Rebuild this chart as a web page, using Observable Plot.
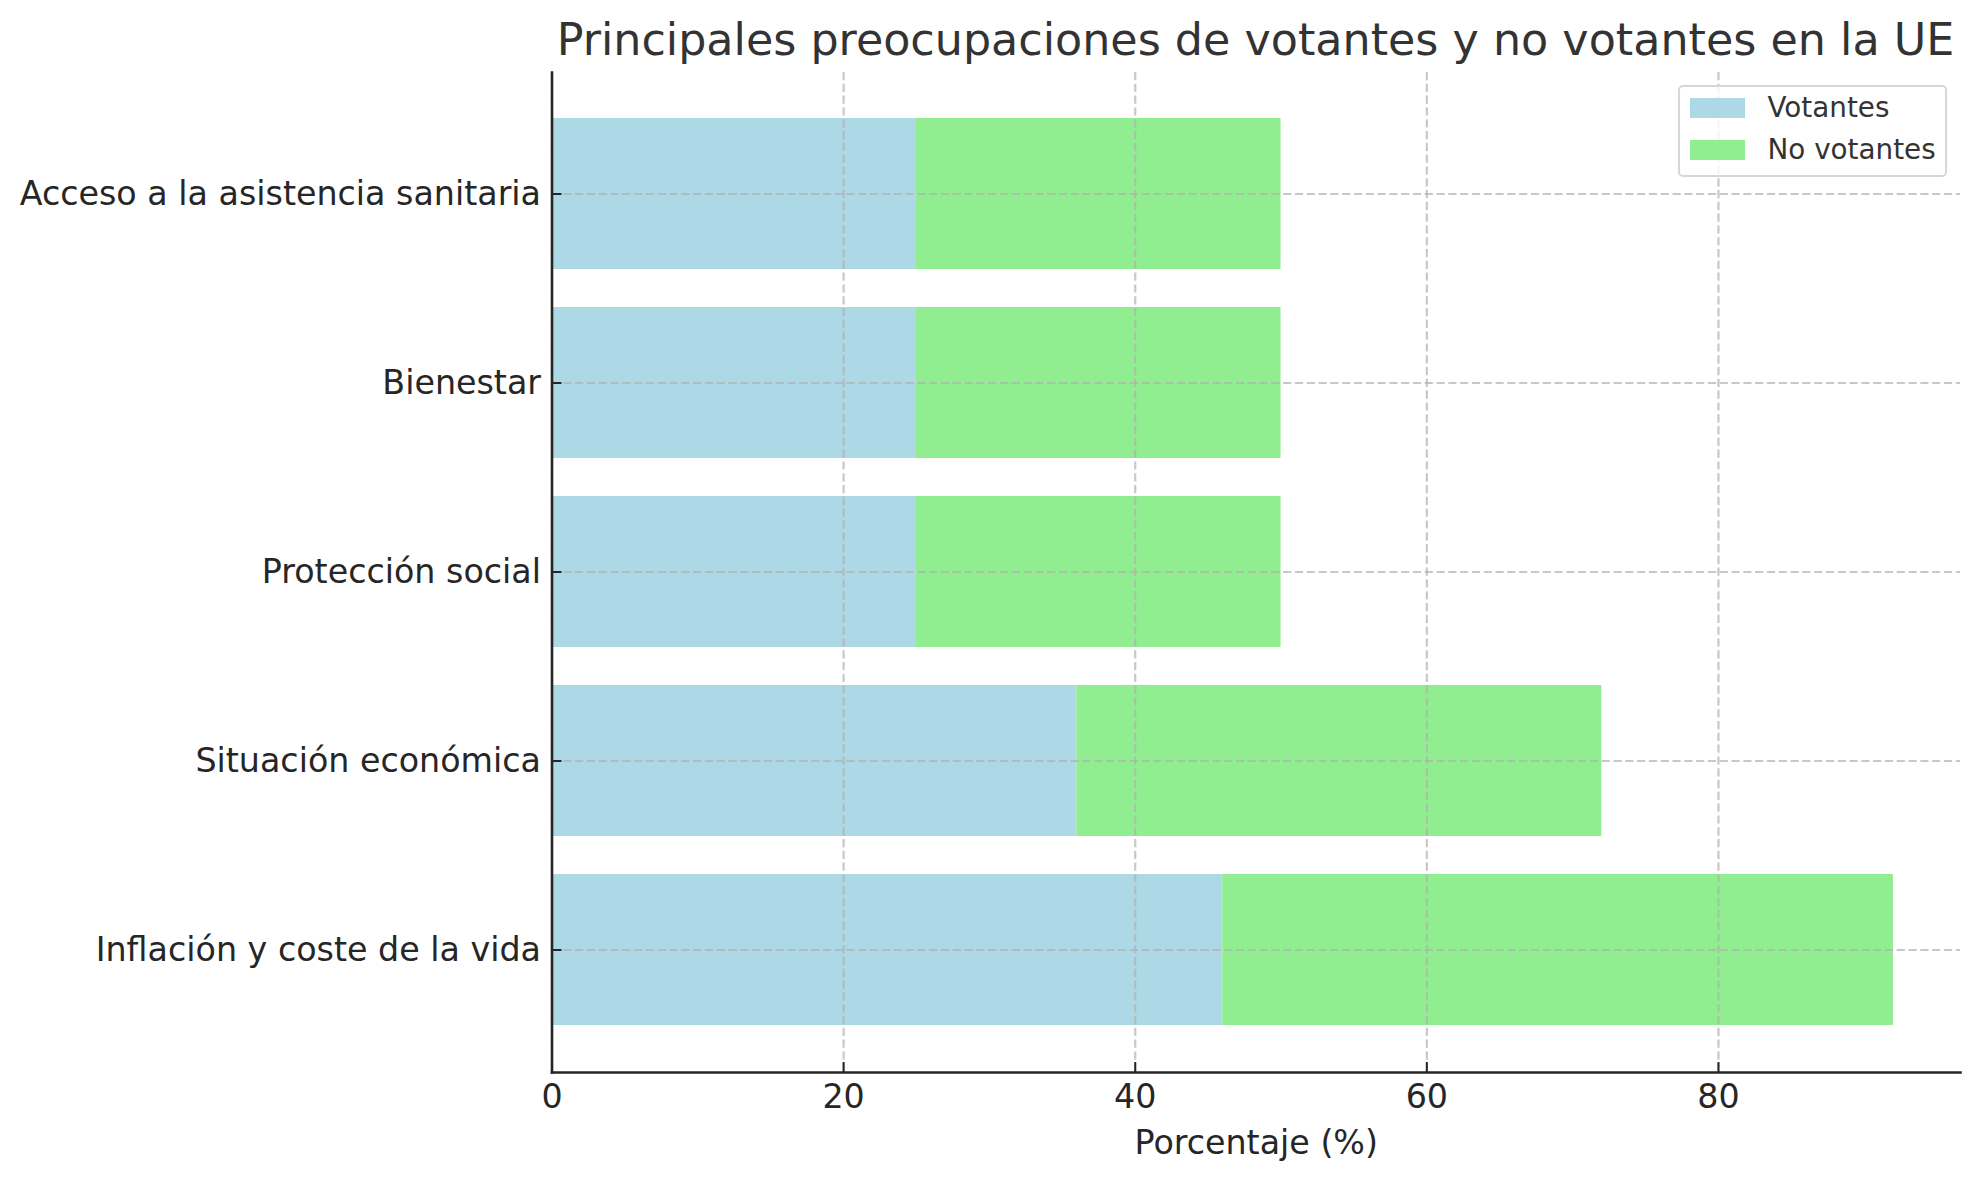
<!DOCTYPE html>
<html>
<head>
<meta charset="utf-8">
<script src="https://cdn.jsdelivr.net/npm/d3@7"></script>
<script src="https://cdn.jsdelivr.net/npm/@observablehq/plot@0.6"></script>
<style>
  html, body { margin: 0; padding: 0; background: #fff; }
  #wrap { position: relative; width: 1979px; height: 1180px; font-family: "DejaVu Sans", sans-serif; }
  #title { box-sizing: border-box; height: 62px; padding: 18px 19px 0 551px; font-size: 44.4px; line-height: 44.4px; text-align: center; color: #333; white-space: nowrap; }
  #legend { position: absolute; left: 1678px; top: 85px; width: 269px; height: 92px; box-sizing: border-box; border: 2.6px solid #d6d6d6; border-radius: 5px; background: rgba(255,255,255,0.8); }
  .row { position: absolute; left: 9.5px; display: flex; align-items: center; height: 20px; font-size: 27.8px; color: #333; white-space: nowrap; }
  .sw { width: 55px; height: 20px; margin-right: 23px; }
</style>
</head>
<body>
<div id="wrap">
  <div id="title"></div>
  <div id="chart"></div>
  <div id="legend"></div>
</div>
<script>
const title = "Principales preocupaciones de votantes y no votantes en la UE";
const categories = [
  "Acceso a la asistencia sanitaria",
  "Bienestar",
  "Protección social",
  "Situación económica",
  "Inflación y coste de la vida"
];
const votantes = [25, 25, 25, 36, 46];
const noVotantes = [25, 25, 25, 36, 46];
const series = ["Votantes", "No votantes"];
const colors = ["#ADD8E6", "#90EE90"];
const xTicks = [0, 20, 40, 60, 80];
const xLabel = "Porcentaje (%)";

const data = [];
categories.forEach((c, i) => {
  data.push({category: c, series: series[0], value: votantes[i]});
  data.push({category: c, series: series[1], value: noVotantes[i]});
});

document.getElementById("title").textContent = title;

const gridStyle = {stroke: "#b0b0b0", strokeOpacity: 0.7, strokeWidth: 2.2, strokeDasharray: "8.2,3.6"};

const plot = Plot.plot({
  width: 1979,
  height: 1118,
  marginLeft: 551.5,
  marginRight: 19,
  marginTop: 10,
  marginBottom: 108,
  style: {fontFamily: "DejaVu Sans", fontSize: "33.3px", color: "#262626", background: "white"},
  x: {domain: [0, 96.6]},
  y: {type: "band", domain: categories, paddingInner: 0.2, paddingOuter: 0.24, align: 0.5},
  color: {domain: series, range: colors},
  marks: [
    Plot.barX(data, {x: "value", y: "category", fill: "series"}),
    Plot.gridX(xTicks, gridStyle),
    Plot.gridY(gridStyle),
    Plot.axisX(xTicks, {tickSize: -10, tickPadding: 22, strokeWidth: 2, label: xLabel, labelAnchor: "center", labelOffset: 81, labelArrow: "none", fontSize: 33.3}),
    Plot.axisY({tickSize: -10, tickPadding: 21, strokeWidth: 2, label: null, fontSize: 33.3}),
    Plot.frame({anchor: "left", stroke: "#262626", strokeWidth: 2.6}),
    Plot.frame({anchor: "bottom", stroke: "#262626", strokeWidth: 2.6})
  ]
});
document.getElementById("chart").appendChild(plot);

const legend = document.getElementById("legend");
series.forEach((s, i) => {
  const row = document.createElement("div");
  row.className = "row";
  row.style.top = (10.5 + i * 42) + "px";
  const sw = document.createElement("div");
  sw.className = "sw";
  sw.style.background = colors[i];
  const tx = document.createElement("span");
  tx.textContent = s;
  row.appendChild(sw);
  row.appendChild(tx);
  legend.appendChild(row);
});
</script>
</body>
</html>
